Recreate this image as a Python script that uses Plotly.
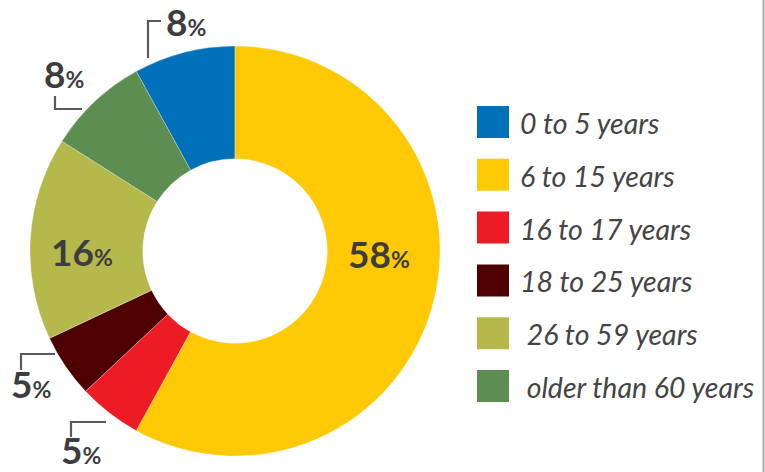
import plotly.graph_objects as go

# ---- data ----
labels = ["0 to 5 years", "6 to 15 years", "16 to 17 years", "18 to 25 years",
          "26 to 59 years", "older than 60 years"]
values = [8, 58, 5, 5, 16, 8]
legend_text = ["0 to 5 years", "6 to 15 years", "16 to 17 years", "18 to 25 years",
               "\u00a026 to 59 years", "\u00a0older than 60 years"]
colors = ["#0070BA", "#FFCA05", "#ED1C24", "#4E0000", "#B5B84A", "#5C8D51"]

W, H = 765, 472
def px(x):
    return x / W
def py(y):
    return 1 - y / H

# layout positions for the percentage labels (pixel centers)
label_pos = [(186, 22), (379, 253), (81, 449), (31, 383), (82, 251), (64, 73)]
# leader lines (pixel polylines), None for inside labels
leaders = [
    [(161, 21), (148, 21), (148, 58)],
    None,
    [(106, 422), (71, 422), (71, 437)],
    [(55, 354), (21, 354), (21, 370)],
    None,
    [(55, 96), (55, 109), (82, 109)],
]

fig = go.Figure()
fig.add_trace(go.Pie(
    labels=labels, values=values, sort=False, direction="clockwise",
    rotation=-360 * values[0] / sum(values),
    hole=0.45, textinfo="none", showlegend=False,
    marker=dict(colors=colors, line=dict(color="white", width=0.3)),
    domain=dict(x=[px(30), px(440)], y=[py(456), py(46)]),
))

annotations = []
shapes = []
total = sum(values)
for i, v in enumerate(values):
    pct = round(100 * v / total)
    x, y = label_pos[i]
    annotations.append(dict(
        x=px(x), y=py(y), xref="paper", yref="paper", showarrow=False,
        xanchor="center", yanchor="middle",
        text=f"<b>{pct}</b><span style='font-size:23px'><b>%</b></span>",
        font=dict(family="Lato", size=37, color="#3d3d3f", weight=900),
    ))
    if leaders[i]:
        pts = leaders[i]
        path = "M " + " L ".join(f"{px(a)},{py(b)}" for a, b in pts)
        shapes.append(dict(type="path", xref="paper", yref="paper", path=path,
                           line=dict(color="#5a5a5c", width=2.2)))

# custom legend
leg_y0 = 122
leg_dy = 52.8
for i, (t, c) in enumerate(zip(legend_text, colors)):
    cy = leg_y0 + i * leg_dy
    shapes.append(dict(type="rect", xref="paper", yref="paper",
                       x0=px(477), x1=px(509), y0=py(cy - 16), y1=py(cy + 16),
                       fillcolor=c, line=dict(width=0)))
    annotations.append(dict(
        x=px(518), y=py(cy + 1), xref="paper", yref="paper", showarrow=False,
        xanchor="left", yanchor="middle", text=t,
        font=dict(family="Lato", size=28.5, color="#444446", style="italic"),
    ))

# right border line
shapes.append(dict(type="line", xref="paper", yref="paper",
                   x0=px(763.5), x1=px(763.5), y0=0, y1=1,
                   line=dict(color="#aaaaaa", width=2)))

fig.update_layout(
    width=W, height=H, margin=dict(l=0, r=0, t=0, b=0),
    paper_bgcolor="white", plot_bgcolor="white",
    showlegend=False, annotations=annotations, shapes=shapes,
)
fig.write_html("out.html")
